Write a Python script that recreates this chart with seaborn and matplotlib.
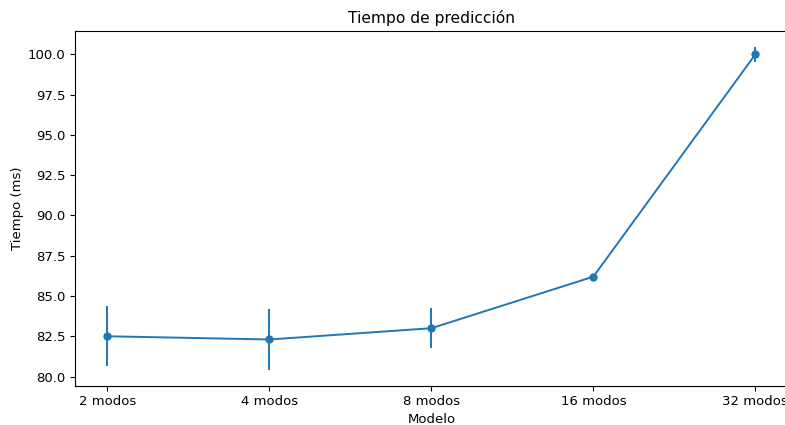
import matplotlib
matplotlib.use("Agg")
import matplotlib.pyplot as plt
import seaborn as sns
import pandas as pd

modelos = ["2 modos", "4 modos", "8 modos", "16 modos", "32 modos"]
tiempo_ms = [82.5, 82.3, 83.0, 86.2, 100.0]
desviacion_ms = [1.85, 1.88, 1.25, 0.05, 0.45]

df = pd.DataFrame({"Modelo": modelos, "Tiempo": tiempo_ms, "Error": desviacion_ms})

plt.rcParams["font.size"] = 9.5
fig = plt.figure(figsize=(7.85, 4.25), dpi=100)
ax = fig.add_axes([0.0955, 0.092, 0.908, 0.835])

color = "#1f77b4"
sns.lineplot(data=df, x="Modelo", y="Tiempo", marker="o", markersize=6,
             markeredgewidth=0, color=color, linewidth=1.4, sort=False, ax=ax)
ax.errorbar(range(len(df)), df["Tiempo"], yerr=df["Error"], fmt="none",
            ecolor=color, elinewidth=1.4)

ax.tick_params(labelsize=9.5, length=3.3)
ax.set_title("Tiempo de predicción", fontsize=11.2, pad=5.5)
ax.set_xlabel("Modelo", fontsize=9.5, labelpad=3)
ax.set_ylabel("Tiempo (ms)", fontsize=9.5, labelpad=3)

fig.savefig("out.png", dpi=100)
